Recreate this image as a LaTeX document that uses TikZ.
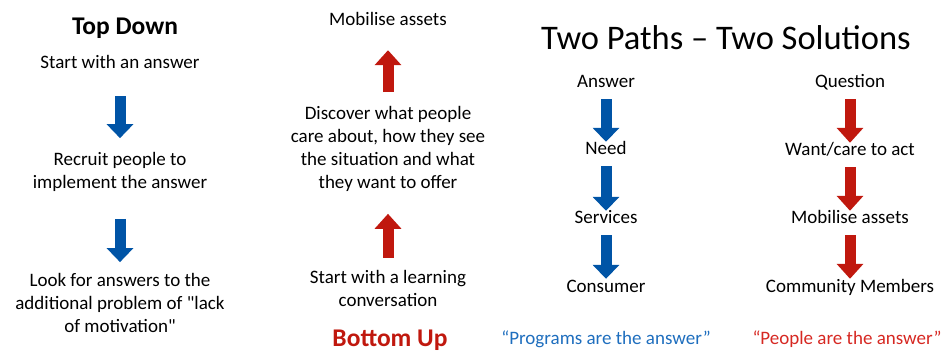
\documentclass[tikz,border=0pt]{standalone}
\usepackage{fontspec}
\setmainfont{Carlito}[Ligatures=TeXOff]
\usetikzlibrary{arrows.meta}
\definecolor{arrblue}{RGB}{0,84,166}
\definecolor{arrred}{RGB}{192,24,14}
\definecolor{quoteblue}{RGB}{30,110,190}
\definecolor{quotered}{RGB}{214,40,34}
\tikzset{
	txt/.style={font=\fontsize{19}{23}\selectfont, align=center, inner sep=0pt},
	word/.style={txt, text height=12pt, text depth=4pt},
	heading/.style={font=\fontsize{25.5}{30}\selectfont\bfseries, inner sep=0pt},
	bluearr/.style={draw=arrblue, line width=11pt, -{Triangle[width=26pt,length=14pt]}},
	redarr/.style={draw=arrred, line width=11pt, -{Triangle[width=26pt,length=15pt]}},
	pathstep/.style={shorten <=7pt, shorten >=1pt}
}
\begin{document}
\begin{tikzpicture}[x=1pt,y=-1pt]
	\useasboundingbox (0,0) rectangle (941,352);
	% top down
	\node[heading] (td) at (125,28) {Top Down};
	\node[word] (tdstart) at (120,65) {Start with an answer};
	\node[txt] (tdrecruit) at (120,172) {Recruit people to\\implement the answer};
	\node[txt] (tdlook) at (120,303) {Look for answers to the\\additional problem of "lack\\of motivation"};
	\draw[bluearr, shorten <=23pt, shorten >=14pt] (tdstart) -- (tdrecruit);
	\draw[bluearr, shorten <=27pt, shorten >=11pt] (tdrecruit) -- (tdlook);
	% bottom up
	\node[word] (bumob) at (388,22) {Mobilise assets};
	\node[txt] (budisc) at (388,149) {Discover what people\\care about, how they see\\the situation and what\\they want to offer};
	\node[txt] (bulearn) at (388,288) {Start with a learning\\conversation};
	\node[heading, text=arrred] (bu) at (390,340) {Bottom Up};
	\draw[redarr, shorten <=12pt, shorten >=22pt] (bulearn) -- (budisc);
	\draw[redarr, shorten <=14pt, shorten >=20pt] (budisc) -- (bumob);
	% two paths
	\node[font=\fontsize{34.5}{40}\selectfont, inner sep=0pt] (title) at (726,38) {Two Paths – Two Solutions};
	\node[word] (answer) at (606,84) {Answer};
	\node[word] (need) at (606,151) {Need};
	\node[word] (services) at (606,220) {Services};
	\node[word] (consumer) at (606,288) {Consumer};
	\node[word] (question) at (850,84) {Question};
	\node[word] (want) at (850,152) {Want/care to act};
	\node[word] (mobilise) at (850,220) {Mobilise assets};
	\node[word] (community) at (850,288) {Community Members};
	\draw[bluearr, pathstep] (answer) -- (need);
	\draw[bluearr, pathstep] (need) -- (services);
	\draw[bluearr, pathstep] (services) -- (consumer);
	\draw[redarr, pathstep] (question) -- (want);
	\draw[redarr, pathstep] (want) -- (mobilise);
	\draw[redarr, pathstep] (mobilise) -- (community);
	\node[txt, text=quoteblue] (progs) at (606,339) {“Programs are the answer”};
	\node[txt, text=quotered] (people) at (847,339) {“People are the answer”};
\end{tikzpicture}
\end{document}
